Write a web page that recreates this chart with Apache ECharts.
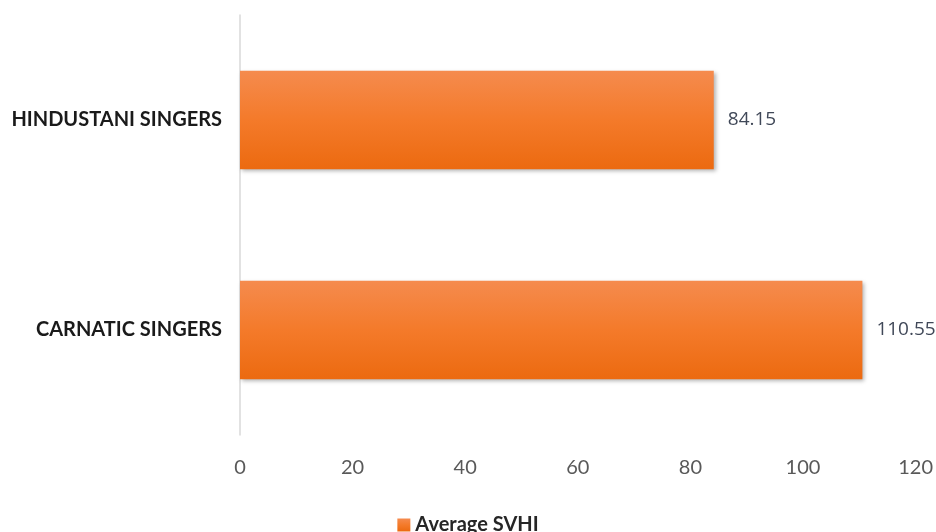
<!DOCTYPE html>
<html>
<head>
<meta charset="utf-8">
<script src="https://cdn.jsdelivr.net/npm/echarts@6/dist/echarts.min.js"></script>
<style>html,body{margin:0;padding:0;background:#fff;}#c{width:936px;height:532px;}</style>
</head>
<body>
<div id="c"></div>
<script>
const categories = ['CARNATIC SINGERS', 'HINDUSTANI SINGERS'];
const seriesName = 'Average SVHI';
const values = [110.55, 84.15];
const xTicks = [0, 20, 40, 60, 80, 100, 120];

const chart = echarts.init(document.getElementById('c'));
chart.setOption({
  backgroundColor: '#ffffff',
  animation: false,
  grid: { left: 240, right: 16, top: 15, bottom: 97, containLabel: false },
  legend: {
    data: [seriesName],
    top: 510,
    left: 'center',
    icon: 'rect',
    itemWidth: 13,
    itemHeight: 13,
    itemGap: 6,
    textStyle: { fontFamily: 'Lato', fontWeight: 'bold', fontSize: 20, color: '#262626' }
  },
  xAxis: {
    type: 'value',
    min: xTicks[0],
    max: xTicks[xTicks.length - 1],
    interval: 20,
    axisLine: { show: false },
    axisTick: { show: false },
    splitLine: { show: false },
    axisLabel: { margin: 23, fontFamily: 'Lato', fontSize: 20, color: '#595959' }
  },
  yAxis: {
    type: 'category',
    data: categories,
    axisLine: { show: true, lineStyle: { color: '#d9d9d9', width: 1.5 } },
    axisTick: { show: false },
    axisLabel: { margin: 18, fontFamily: 'Lato', fontWeight: 'bold', fontSize: 20, color: '#1a1a1a' }
  },
  series: [{
    name: seriesName,
    type: 'bar',
    data: values,
    barWidth: '47%',
    itemStyle: {
      color: new echarts.graphic.LinearGradient(0, 0, 0, 1, [
        { offset: 0, color: '#f58b4e' },
        { offset: 0.5, color: '#f47a2a' },
        { offset: 1, color: '#ec6a10' }
      ]),
      shadowColor: 'rgba(0,0,0,0.3)',
      shadowBlur: 4,
      shadowOffsetX: 2,
      shadowOffsetY: 2
    },
    label: {
      show: true,
      position: 'right',
      distance: 14,
      fontFamily: 'Open Sans',
      fontSize: 19,
      color: '#404858',
      formatter: p => p.value.toFixed(2)
    }
  }]
});
</script>
</body>
</html>
